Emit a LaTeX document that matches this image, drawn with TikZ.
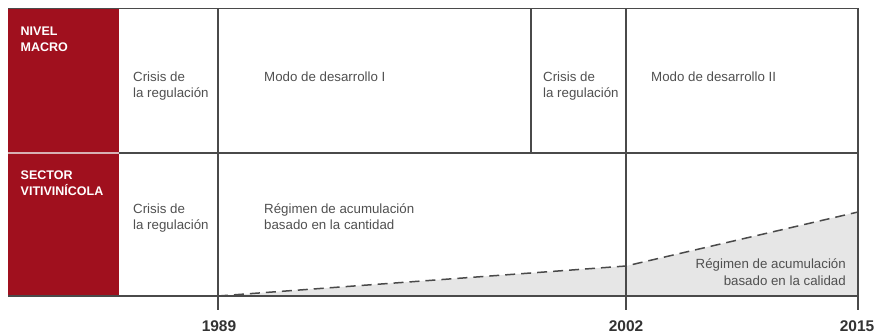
\documentclass[tikz,border=0pt]{standalone}
\usepackage{fontspec}
\setmainfont{Liberation Sans}
\definecolor{macrored}{HTML}{A0101E}
\definecolor{gridline}{HTML}{4A4A4A}
\definecolor{celltext}{HTML}{505050}
\definecolor{areafill}{HTML}{E6E6E6}
\definecolor{yeartext}{HTML}{333333}
\definecolor{redgap}{HTML}{D8B0B4}
\begin{document}
\begin{tikzpicture}[x=1pt,y=-1pt,
  grid/.style={draw=gridline,line width=1.2pt},
  cell/.style={inner sep=0pt,anchor=base west,align=left,text=celltext,
    font=\fontsize{13.3}{16.5}\selectfont},
  cellr/.style={cell,anchor=base east,align=right},
  head/.style={inner sep=0pt,anchor=base west,align=left,text=white,
    font=\fontsize{12.5}{16.5}\selectfont\bfseries},
  year/.style={inner sep=0pt,anchor=base,text=yeartext,
    font=\fontsize{15.5}{18}\selectfont\bfseries},
  trend/.style={draw=gridline,line width=1.5pt,dash pattern=on 10pt off 6pt}]
\useasboundingbox (0,0) rectangle (876,334);
% corner coordinates
\coordinate (tl) at (8,8.5);
\coordinate (tr) at (858,8.5);
\coordinate (bl) at (8,296);
\coordinate (br) at (858,296);
\coordinate (ml) at (8,153);
\coordinate (mr) at (858,153);
\coordinate (rm) at (119,153);
\coordinate (rcb) at (119,296);
\coordinate (a1) at (218,8.5);
\coordinate (a2) at (218,310);
\coordinate (b1) at (531,8.5);
\coordinate (b2) at (531,153);
\coordinate (c1) at (626,8.5);
\coordinate (c2) at (626,310);
\coordinate (d2) at (858,310);
\coordinate (p0) at (218,296);
\coordinate (p1) at (626,266);
\coordinate (p2) at (858,212);
% shaded area
\fill[areafill] (p0) -- (p1) -- (p2) -- (br) -- cycle;
\draw[trend] (p0) -- (p1) -- (p2);
% grid
\draw[grid] (tl) -- (tr) -- (d2);
\draw[grid] (bl) -- (br);
\draw[grid] (rm) -- (mr);
\draw[grid] (a1) -- (a2);
\draw[grid] (b1) -- (b2);
\draw[grid] (c1) -- (c2);
% red column
\fill[macrored] (8,9.1) rectangle (119,152.2);
\fill[macrored] (8,153.8) rectangle (119,295.4);
\draw[draw=redgap,line width=1.6pt] (ml) -- (rm);
% red column texts
\node[head] (nm) at (20.5,52) {NIVEL\\MACRO};
\node[head] (sv) at (20.5,196) {SECTOR\\VITIVINÍCOLA};
% macro row
\node[cell] (cr1) at (133,98) {Crisis de\\la regulación};
\node[cell] (md1) at (264,82) {Modo de desarrollo I};
\node[cell] (cr2) at (543,98) {Crisis de\\la regulación};
\node[cell] (md2) at (651,82) {Modo de desarrollo II};
% sector row
\node[cell] (cr3) at (133,229.5) {Crisis de\\la regulación};
\node[cell] (rq) at (264,229.5) {Régimen de acumulación\\basado en la cantidad};
\node[cellr] (rc2) at (846,285) {Régimen de acumulación\\basado en la calidad};
% years
\node[year] (y1) at (219,331) {1989};
\node[year] (y2) at (626,331) {2002};
\node[year] (y3) at (857,331) {2015};
\end{tikzpicture}
\end{document}
